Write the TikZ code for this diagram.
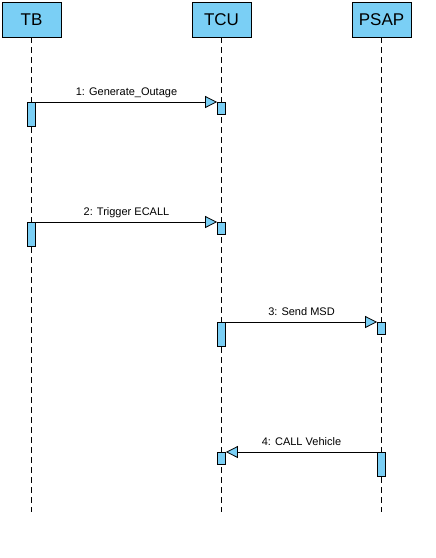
\documentclass[tikz,border=0pt]{standalone}
\usepackage{fontspec}
\setmainfont{Liberation Sans}
\usetikzlibrary{arrows.meta}
\definecolor{boxblue}{HTML}{7ACFF5}
\begin{document}
\begin{tikzpicture}[x=1pt,y=-1pt,
  headbox/.style={draw, line width=0.8pt, fill=boxblue, minimum width=59pt, minimum height=35pt, inner sep=0pt, font=\fontsize{17}{20}\selectfont},
  lifeline/.style={draw, line width=0.8pt, dash pattern=on 6pt off 4pt},
  actbox/.style={draw, line width=0.8pt, fill=boxblue, minimum width=8pt, inner sep=0pt, anchor=north},
  msg/.style={draw, line width=0.8pt, -{Triangle[length=12pt,width=12pt,fill=boxblue]}},
  msglabel/.style={midway, anchor=base, yshift=7pt, inner sep=0pt, font=\fontsize{11}{13}\selectfont}
]
\useasboundingbox (0,0) rectangle (436,558);
% heads
\node[headbox] (tb) at (31.5,19.5) {TB};
\node[headbox] (tcu) at (221.5,19.5) {TCU};
\node[headbox] (psap) at (381.5,19.5) {PSAP};
% lifeline ends
\coordinate (tbend) at (31.5,512);
\coordinate (tcuend) at (221.5,512);
\coordinate (psapend) at (381.5,512);
\draw[lifeline] (tb.south) -- (tbend);
\draw[lifeline] (tcu.south) -- (tcuend);
\draw[lifeline] (psap.south) -- (psapend);
% activations
\node[actbox, minimum height=24pt] (a1s) at (31.5,102) {};
\node[actbox, minimum height=12pt] (a1t) at (221.5,102) {};
\node[actbox, minimum height=24pt] (a2s) at (31.5,222) {};
\node[actbox, minimum height=12pt] (a2t) at (221.5,222) {};
\node[actbox, minimum height=24pt] (a3s) at (221.5,322) {};
\node[actbox, minimum height=12pt] (a3t) at (381.5,322) {};
\node[actbox, minimum height=24pt] (a4s) at (381.5,452) {};
\node[actbox, minimum height=12pt] (a4t) at (221.5,452) {};
% messages
\draw[msg] (a1s.north east) -- (a1t.north west) node[msglabel] {1: Generate\_Outage};
\draw[msg] (a2s.north east) -- (a2t.north west) node[msglabel] {2: Trigger ECALL};
\draw[msg] (a3s.north east) -- (a3t.north west) node[msglabel] {3: Send MSD};
\draw[msg] (a4s.north west) -- (a4t.north east) node[msglabel] {4: CALL Vehicle};
\end{tikzpicture}
\end{document}
